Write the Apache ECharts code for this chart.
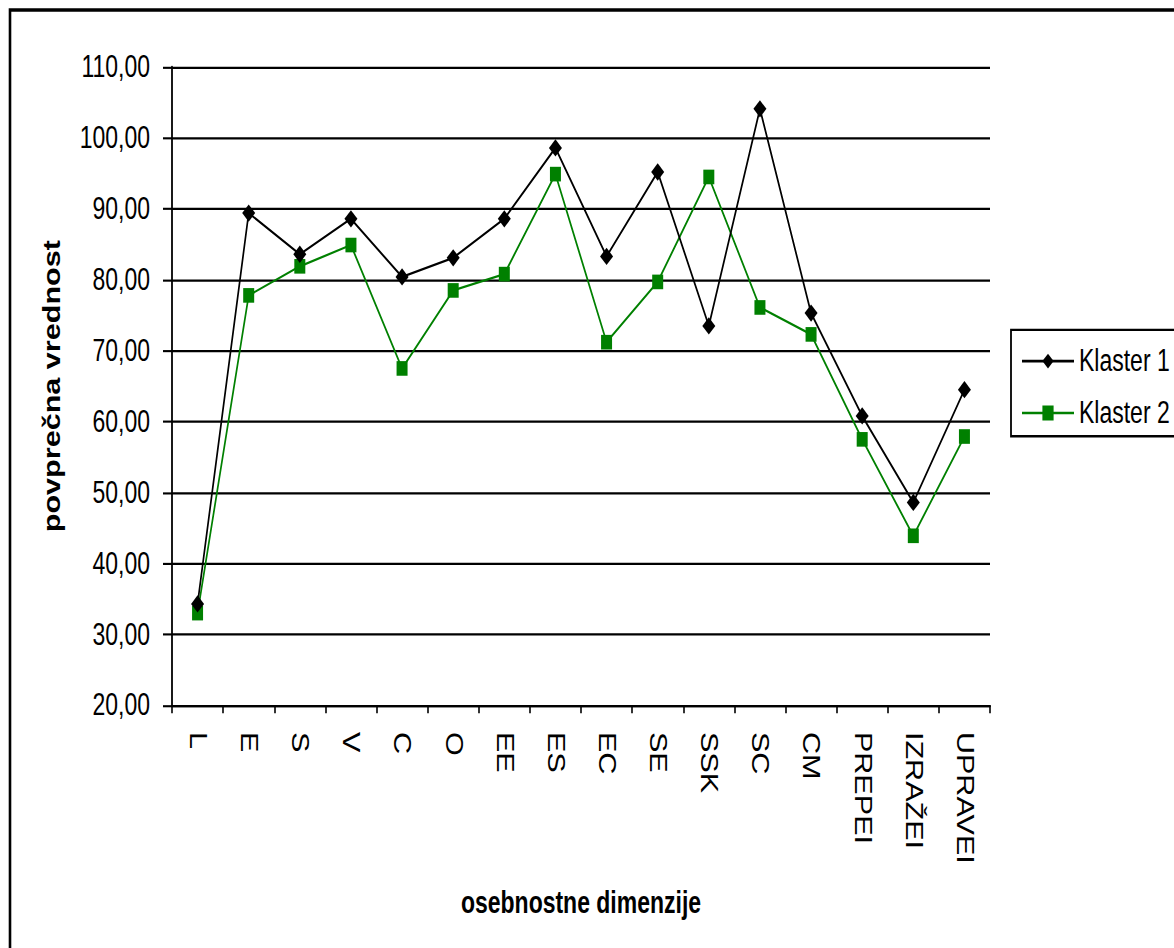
<!DOCTYPE html>
<html>
<head>
<meta charset="utf-8">
<script src="https://cdn.jsdelivr.net/npm/echarts@6/dist/echarts.min.js"></script>
<style>
html,body{margin:0;padding:0;background:#fff;overflow:hidden;}
#wrap{width:1174px;height:948px;overflow:hidden;}
/* the reference picture is vertically stretched; reproduce that stretch */
#chart{width:1174px;height:713px;transform-origin:0 0;transform:scaleY(1.33);}
</style>
</head>
<body>
<div id="wrap"><div id="chart"></div></div>
<script>
const categories = ['L','E','S','V','C','O','EE','ES','EC','SE','SSK','SC','CM','PREPEI','IZRAŽEI','UPRAVEI'];
const klaster1 = [34.3, 89.4, 83.6, 88.6, 80.4, 83.1, 88.6, 98.6, 83.3, 95.2, 73.5, 104.1, 75.3, 60.8, 48.6, 64.5];
const klaster2 = [33.0, 77.8, 81.9, 84.9, 67.5, 78.5, 80.8, 94.9, 71.2, 79.7, 94.5, 76.1, 72.3, 57.5, 43.9, 57.9];
const seriesNames = ['Klaster 1', 'Klaster 2'];
const yMin = 20, yMax = 110, yStep = 10;
const xTitle = 'osebnostne dimenzije';
const yTitle = 'povprečna vrednost';

const FONT = '"Liberation Sans", Arial, sans-serif';
const chart = echarts.init(document.getElementById('chart'), null, {renderer: 'svg'});
chart.setOption({
  backgroundColor: '#fff',
  animation: false,
  grid: {left: 172, right: 184, top: 50.4, bottom: 182.7, containLabel: false},
  graphic: [
    {type: 'rect', z: 100, shape: {x: 10, y: 7.5, width: 1300, height: 1000},
     style: {fill: 'none', stroke: '#000', lineWidth: 2.6}},
    {type: 'rect', z: 100, shape: {x: 1011, y: 248, width: 300, height: 80},
     style: {fill: '#fff', stroke: '#000', lineWidth: 1.8}}
  ],
  legend: {
    orient: 'vertical',
    left: 1021, top: 260,
    padding: 0,
    z: 200,
    itemWidth: 52, itemHeight: 14, itemGap: 16,
    textStyle: {fontFamily: FONT, fontSize: 23, color: '#000'},
    data: seriesNames
  },
  xAxis: {
    type: 'category',
    data: categories,
    boundaryGap: true,
    name: xTitle,
    nameLocation: 'middle',
    nameGap: 137,
    nameTextStyle: {fontFamily: FONT, fontSize: 23, fontWeight: 'bold', color: '#000'},
    axisLine: {lineStyle: {color: '#000', width: 1.7}},
    axisTick: {show: true, length: 6, lineStyle: {color: '#000', width: 1.6}},
    axisLabel: {rotate: -90, margin: 20, fontFamily: FONT, fontSize: 23, color: '#000'},
    splitLine: {show: false}
  },
  yAxis: {
    type: 'value',
    min: yMin, max: yMax, interval: yStep,
    name: yTitle,
    nameLocation: 'middle',
    nameRotate: 90,
    nameGap: 108,
    nameTextStyle: {fontFamily: FONT, fontSize: 23, fontWeight: 'bold', color: '#000'},
    axisLine: {show: true, lineStyle: {color: '#000', width: 1.8}},
    axisTick: {show: true, inside: false, length: 9, lineStyle: {color: '#000', width: 1.6}},
    axisLabel: {margin: 22, fontFamily: FONT, fontSize: 23, color: '#000',
      formatter: v => v.toFixed(2).replace('.', ',')},
    splitLine: {show: true, lineStyle: {color: '#000', width: 1.7}}
  },
  series: [
    {name: seriesNames[0], type: 'line', data: klaster1,
     symbol: 'diamond', symbolSize: [13, 13],
     lineStyle: {color: '#000', width: 1.7},
     itemStyle: {color: '#000'}, z: 3},
    {name: seriesNames[1], type: 'line', data: klaster2,
     symbol: 'rect', symbolSize: [11, 11],
     lineStyle: {color: '#008000', width: 1.7},
     itemStyle: {color: '#008000'}, z: 2}
  ]
});
</script>
</body>
</html>
